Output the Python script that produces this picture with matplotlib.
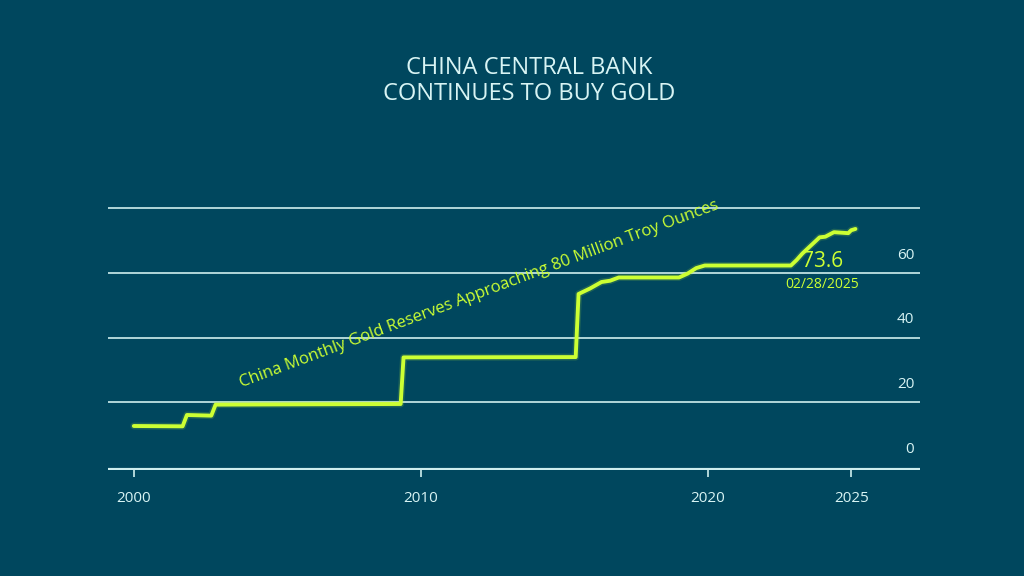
import matplotlib
matplotlib.use("Agg")
import matplotlib.pyplot as plt
plt.rcParams['font.family'] = ['Open Sans', 'DejaVu Sans']

years = [2000.0, 2001.7, 2001.85, 2002.7, 2002.85, 2009.3, 2009.4, 2015.4, 2015.5, 2015.9, 2016.3, 2016.6, 2016.9, 2019.0, 2019.3, 2019.6, 2019.9, 2022.9, 2023.1, 2023.3, 2023.6, 2023.9, 2024.1, 2024.4, 2024.9, 2025.0, 2025.15]
values = [12.7, 12.6, 16.1, 15.9, 19.3, 19.5, 33.9, 34.0, 53.5, 55.2, 57.2, 57.6, 58.6, 58.6, 59.8, 61.5, 62.3, 62.3, 64.0, 66.0, 68.5, 71.0, 71.2, 72.6, 72.3, 73.2, 73.6]
yticks = [0, 20, 40, 60]
xticks = [2000, 2010, 2020, 2025]

bg = "#00475e"
lime = "#ccff33"
txt = "#d8f4f4"
fig = plt.figure(figsize=(10.24, 5.76), dpi=100, facecolor=bg)
ax = fig.add_axes([108/1024, 1-470/576, (920-108)/1024, (470-150)/576], facecolor=bg)
ax.set_xlim(1999.1, 2027.4)
ax.set_ylim(-0.9, 98)
for g in [20, 40, 60, 80]:
    ax.axhline(g, color="#cfeeee", lw=1.2, zorder=1)
ax.axhline(-0.9, color="#cfeeee", lw=3, zorder=1)
ax.plot(years, values, color=lime, lw=5, alpha=0.15, solid_capstyle="round", zorder=2)
ax.plot(years, values, color=lime, lw=2.8, solid_capstyle="round", zorder=3)
for s in ax.spines.values():
    s.set_visible(False)
ax.set_yticks([])
ax.set_xticks(xticks)
ax.set_xticklabels([str(x) for x in xticks], color=txt, fontsize=11)
ax.tick_params(axis="x", length=5, color="#cfeeee", width=1.2, pad=10)
for v in yticks:
    ax.text(2027.2, v + 5.5, str(v), color=txt, fontsize=11, ha="right", va="center")
ax.text(2024.0, 63.5, "73.6", color=lime, fontsize=15, ha="center", va="center")
ax.text(2024.0, 56.5, "02/28/2025", color=lime, fontsize=10, ha="center", va="center")
ax.text(2003.8, 23.5, "China Monthly Gold Reserves Approaching 80 Million Troy Ounces",
        color=lime, fontsize=12, rotation=20.5, ha="left", va="bottom", rotation_mode="anchor")
fig.text(0.517, 0.86, "CHINA CENTRAL BANK\nCONTINUES TO BUY GOLD", color=txt, fontsize=17,
         ha="center", va="center", linespacing=1.1)
fig.savefig("out.png", facecolor=bg)
